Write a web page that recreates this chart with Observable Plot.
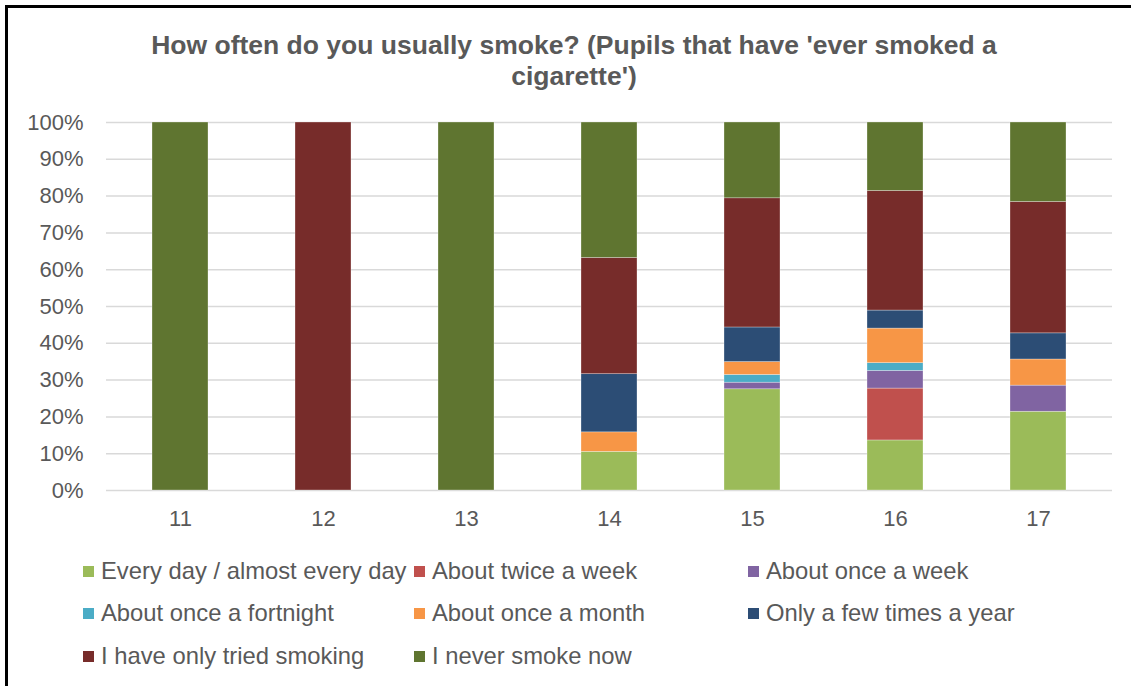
<!DOCTYPE html>
<html>
<head>
<meta charset="utf-8">
<script src="https://cdn.jsdelivr.net/npm/d3@7"></script>
<script src="https://cdn.jsdelivr.net/npm/@observablehq/plot@0.6"></script>
<style>
  html, body { margin: 0; padding: 0; background: #fff; }
  #page { position: relative; width: 1131px; height: 686px; overflow: hidden; font-family: "Liberation Sans", Arial, sans-serif; }
  #frame { position: absolute; left: 5px; top: 5px; width: 1200px; height: 800px; border-left: 3px solid #000; border-top: 3px solid #000; box-sizing: border-box; }
  #title { position: absolute; left: 74px; width: 1000px; top: 30px; text-align: center; font-weight: bold; font-size: 26.5px; line-height: 31px; color: #595959; }
  #chart { position: absolute; left: 0; top: 0; }
  .leg { position: absolute; font-size: 23.8px; color: #595959; white-space: nowrap; line-height: 24px; }
  .leg span.sw { position: absolute; left: 0; top: 7px; width: 11px; height: 11px; }
  .leg span.tx { position: absolute; left: 18px; top: 0; }
</style>
</head>
<body>
<div id="page">
  <div id="frame"></div>
  <div id="title">How often do you usually smoke? (Pupils that have 'ever smoked a<br>cigarette')</div>
  <div id="chart"></div>
  <div id="legend"></div>
</div>
<script>
// Categories (age of pupils)
const ages = ["11", "12", "13", "14", "15", "16", "17"];

// Series values (% of pupils that have ever smoked a cigarette)
const everyDay      = [0, 0, 0, 10.5, 27.5, 13.6, 21.4];
const twiceWeek     = [0, 0, 0, 0, 0, 14.1, 0];
const onceWeek      = [0, 0, 0, 0, 1.8, 4.8, 7.1];
const onceFortnight = [0, 0, 0, 0, 2.1, 2.1, 0];
const onceMonth     = [0, 0, 0, 5.3, 3.5, 9.4, 7.1];
const fewTimesYear  = [0, 0, 0, 15.8, 9.4, 4.9, 7.1];
const onlyTried     = [0, 100, 0, 31.6, 35.1, 32.5, 35.7];
const neverNow      = [100, 0, 100, 36.8, 20.6, 18.6, 21.6];

const seriesNames = [
  "Every day / almost every day",
  "About twice a week",
  "About once a week",
  "About once a fortnight",
  "About once a month",
  "Only a few times a year",
  "I have only tried smoking",
  "I never smoke now"
];
const seriesValues = [everyDay, twiceWeek, onceWeek, onceFortnight, onceMonth, fewTimesYear, onlyTried, neverNow];
const seriesColors = ["#9BBB59", "#C0504D", "#8064A2", "#4BACC6", "#F79646", "#2C4D75", "#772C2A", "#5F7530"];

const yTicks = [0, 10, 20, 30, 40, 50, 60, 70, 80, 90, 100];

const rows = [];
seriesNames.forEach((name, si) => {
  ages.forEach((age, ai) => {
    rows.push({ age, series: name, value: seriesValues[si][ai] });
  });
});

const chart = Plot.plot({
  width: 1131,
  height: 560,
  marginTop: 122,
  marginBottom: 70,
  marginLeft: 106,
  marginRight: 19,
  style: { fontFamily: "Liberation Sans, Arial, sans-serif", color: "#595959", background: "transparent" },
  x: { domain: ages, paddingInner: 0.61, paddingOuter: 0.305, label: null },
  y: { domain: [0, 100], label: null },
  color: { domain: seriesNames, range: seriesColors },
  marks: [
    Plot.gridY(yTicks, { stroke: "#d9d9d9", strokeOpacity: 1, strokeWidth: 1.5 }),
    Plot.barY(rows, {
      x: "age", y: "value", fill: "series",
      stroke: "#ffffff", strokeWidth: 0.6, strokeOpacity: 0.5
    }),
    Plot.axisX({ tickSize: 0, tickPadding: 20, fontSize: 22, fill: "#595959" }),
    Plot.axisY(yTicks, { tickSize: 0, tickPadding: 23, fontSize: 22, fill: "#595959", tickFormat: d => d + "%" })
  ]
});
document.getElementById("chart").appendChild(chart);

// Legend (3 columns x 3 rows)
const colX = [83, 414, 748];
const rowY = [559, 601, 644];
const legend = document.getElementById("legend");
seriesNames.forEach((name, i) => {
  const d = document.createElement("div");
  d.className = "leg";
  d.style.left = colX[i % 3] + "px";
  d.style.top = rowY[Math.floor(i / 3)] + "px";
  const sw = document.createElement("span");
  sw.className = "sw";
  sw.style.background = seriesColors[i];
  const tx = document.createElement("span");
  tx.className = "tx";
  tx.textContent = name;
  d.appendChild(sw);
  d.appendChild(tx);
  legend.appendChild(d);
});
</script>
</body>
</html>
